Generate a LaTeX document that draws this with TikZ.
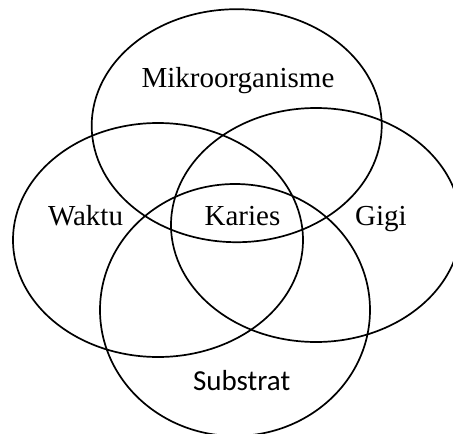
\documentclass[tikz,border=0pt]{standalone}
\usepackage{fontspec}
\setmainfont{Liberation Serif}
\newfontfamily\calib{Carlito}
\usetikzlibrary{shapes.geometric}
\begin{document}
\begin{tikzpicture}[x=1pt,y=-1pt,
  set/.style={draw, ellipse, line width=1.7pt, inner sep=0pt},
  lbl/.style={anchor=base, font=\fontsize{29}{34}\selectfont, inner sep=0pt}]
\useasboundingbox (0,0) rectangle (453,434);
\clip (0,0) rectangle (453,434);
\node[set, minimum width=290pt, minimum height=233pt] (mikro) at (236.7,125.7) {};
\node[set, minimum width=290pt, minimum height=234pt] (waktu) at (158,240) {};
\node[set, minimum width=290pt, minimum height=234pt] (gigi) at (316,225) {};
\node[set, minimum width=270pt, minimum height=252pt] (substrat) at (235,310) {};
\node[lbl] (tm) at (238,87) {Mikroorganisme};
\node[lbl] (tw) at (85.5,225) {Waktu};
\node[lbl] (tk) at (242.5,225) {Karies};
\node[lbl] (tg) at (381,225) {Gigi};
\node[lbl, font=\calib\fontsize{29}{34}\selectfont] (ts) at (241.7,390.7) {Substrat};
\end{tikzpicture}
\end{document}
